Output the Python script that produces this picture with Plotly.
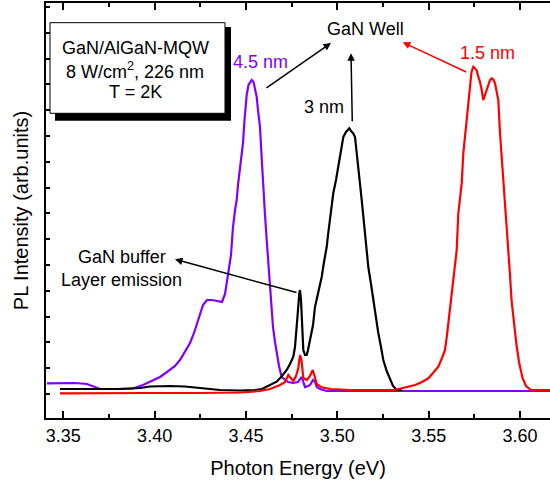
import plotly.graph_objects as go

# ---- pixel-read data (converted to data units below) ----
# Energy (eV) and intensity (arb. units) for each well width
purple_px = [(47,383.3),(60,383.5),(75,383),(87,384),(92,386),(100,389),(115,389),(133,388.5),(143,385),(150,382),
             (160,377),(167,372),(175,366),(180,360),(185,352),(190,343),(194,333),(197,324),(200,314),(203,305),
             (207,300),(212,300),(217,301),(222,302),(225,294),(227,283),(229,268),(231,255),(233,227),(235,210),
             (236.7,200),(238,185),(240,170),(241.5,155),(243,143),(244.5,120),(246.7,95),(248.5,85),(250,82),
             (251.7,80),(253.5,82),(255,88),(256.7,97),(258,110),(260,127),(261.5,155),(263,187),(265,215),
             (266.7,240),(268.5,265),(270,287),(271.5,308),(273,327),(275,342),(276.7,353),(279,366),(281.7,377),
             (285,380),(288,382),(293,383),(298,382),(301.7,377),(303.5,383),(305,387),(308,386),(310,385),(313,380),
             (315,382),(316.7,387),(320,389),(326.7,391),(550,391)]
black_px = [(60,389),(80,389),(100,389.5),(120,389),(140,388),(150,386.5),(170,386),(185,386.5),(200,388),(220,390),
            (240,390.5),(255,390),(262,389),(270,385),(276.7,381.7),(282,376),(286.7,370),(290,364),(293.3,356.7),
            (295,347),(296.7,330),(298,310),(299.3,293),(300,290),(301,300),(301.7,313),(302.5,335),(303.3,350),
            (305,355),(306.7,355),(308,350),(310,340),(313,325),(315,307),(318,293),(321.7,277),(324,262),
            (326.7,247),(328,235),(330,220),(331.5,207),(333.3,193),(336,180),(338.3,167),(340,155),(343.3,137),
            (346,132),(347.5,130),(349.3,128.3),(351,131),(353,133),(355,137),(356.5,150),(358.3,167),(360,183),
            (361.7,200),(363.3,216),(365,233),(366.7,250),(368.3,267),(371,284),(373.3,300),(376,316),(378.3,333),
            (381,347),(383.3,360),(386.7,371),(390,380),(393,386),(396.7,390),(401.7,390)]
red_px = [(60,393.3),(100,393.5),(150,393),(200,393),(240,392.5),(260,391),(270,389),(280,385),(285,382),(288.3,375),
          (290.5,378),(293.3,381),(296,376),(298.3,368),(300,355),(301.5,360),(303.3,378),(306.7,380),(310,376),
          (312.7,370),(314.5,376),(316.7,384),(321.7,387.3),(330,389),(350,390),(370,390),(393.3,390),(401.7,388.3),
          (408,387),(415,385),(422,382),(428.3,378.3),(433,373),(438.3,366.7),(442,358),(445,350),(447,335),
          (448.3,323),(450,310),(451.7,298),(453,285),(455,265),(456.7,250),(458.3,213.3),(460,198),(461.7,183.3),
          (463.3,153.3),(465,135),(466.7,116.7),(468.5,98),(470,83.3),(471.5,72),(473.3,66.7),(475,68),(476.5,70),
          (478.3,76.7),(480,82),(481.7,90),(483.3,100),(485,95),(486.7,90),(488.5,84),(490,80),(491.7,78.3),
          (493.5,80),(495,83.3),(496.5,90),(498.3,100),(500,133),(502.5,167),(505,200),(507,233),(508.5,255),
          (510,275),(511.5,300),(514,325),(516.5,345),(519,362),(522.5,378),(526,386),(531,390),(550,390)]

def ex(px):
    return round(3.35 + (px - 63.3) / 1826.8, 5)

def iy(py):
    return round((418 - py) / 25.8, 4)

energy_45 = [ex(p[0]) for p in purple_px]
pl_45 = [iy(p[1]) for p in purple_px]
energy_3 = [ex(p[0]) for p in black_px]
pl_3 = [iy(p[1]) for p in black_px]
energy_15 = [ex(p[0]) for p in red_px]
pl_15 = [iy(p[1]) for p in red_px]

xtick_vals = [3.35, 3.40, 3.45, 3.50, 3.55, 3.60]
xtick_text = ["3.35", "3.40", "3.45", "3.50", "3.55", "3.60"]

W, H = 550, 488
L, R, T, B = 46, 0, 3, 70
PW, PH = W - L - R, H - T - B

def px2x(px):
    return (px - L) / PW

def py2y(py):
    return (H - B - py) / PH

FONT = "Liberation Sans, Arial, Helvetica, sans-serif"
PURPLE = "#8000FF"

fig = go.Figure()
fig.add_trace(go.Scatter(x=energy_45, y=pl_45, mode="lines", line=dict(color=PURPLE, width=2.2), name="4.5 nm"))
fig.add_trace(go.Scatter(x=energy_3, y=pl_3, mode="lines", line=dict(color="black", width=2.2), name="3 nm"))
fig.add_trace(go.Scatter(x=energy_15, y=pl_15, mode="lines", line=dict(color="#FF0000", width=2.2), name="1.5 nm"))

# info box with shadow
fig.add_shape(type="rect", xref="paper", yref="paper", x0=px2x(55), x1=px2x(231), y0=py2y(27), y1=py2y(120.7),
              fillcolor="black", line=dict(width=0), layer="above")
fig.add_shape(type="rect", xref="paper", yref="paper", x0=px2x(50), x1=px2x(225), y0=py2y(22.7), y1=py2y(113.3),
              fillcolor="white", line=dict(color="black", width=1), layer="above")

def text(px, py, s, color="black", size=18):
    fig.add_annotation(x=px2x(px), y=py2y(py), xref="paper", yref="paper", text=s, showarrow=False,
                       xanchor="center", yanchor="middle", font=dict(family=FONT, size=size, color=color))

def arrow(tail, head, color="black"):
    fig.add_annotation(x=px2x(head[0]), y=py2y(head[1]), xref="paper", yref="paper", text="",
                       showarrow=True, ax=tail[0] - head[0], ay=tail[1] - head[1],
                       arrowhead=2, arrowsize=1, arrowwidth=1.5, arrowcolor=color, standoff=0)

text(135, 47.7, "GaN/AlGaN-MQW")
text(135, 70, "8 W/cm<sup>2</sup>, 226 nm")
text(135, 92, "T = 2K")
text(260.5, 61.7, "4.5 nm", PURPLE)
text(365, 29.3, "GaN Well")
text(324, 107, "3 nm")
text(487.5, 53.3, "1.5 nm", "#FF0000")
text(122, 256.7, "GaN buffer")
text(121.7, 280, "Layer emission")

arrow((265, 89), (331, 43))
arrow((352.3, 122.7), (351, 53.3))
arrow((467.7, 72.7), (402.7, 42.3), "#FF0000")
arrow((298, 293), (175, 259.3))

fig.update_layout(
    width=W, height=H, margin=dict(l=L, r=R, t=T, b=B, autoexpand=False),
    paper_bgcolor="white", plot_bgcolor="white", showlegend=False,
    font=dict(family=FONT, color="black"),
    xaxis=dict(range=[ex(L), ex(W)], tickvals=xtick_vals, ticktext=xtick_text, ticks="inside", ticklen=7,
               tickwidth=2, tickcolor="black", showline=True, linewidth=2, linecolor="black", mirror="ticks",
               showgrid=False, zeroline=False, tickfont=dict(size=18),
               minor=dict(dtick=0.025, tick0=3.35, ticks="inside", ticklen=4, tickwidth=1.5, tickcolor="black", showgrid=False),
               title=dict(text="Photon Energy (eV)", font=dict(size=20), standoff=16)),
    yaxis=dict(range=[0, PH / 25.8], tick0=24 / 25.8, dtick=1, ticks="inside", ticklen=4, tickwidth=1.5,
               tickcolor="black", showticklabels=False, showline=True, linewidth=2, linecolor="black",
               mirror=False, showgrid=False, zeroline=False,
               title=dict(text="PL Intensity (arb.units)", font=dict(size=20), standoff=10)),
)

fig.write_html("out.html", config={"displayModeBar": False},
               post_script="document.body.style.margin='0px';")
